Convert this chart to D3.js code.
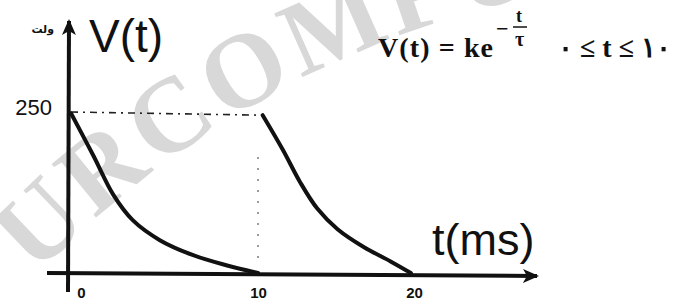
<!DOCTYPE html>
<html>
<head>
<meta charset="utf-8">
<script src="https://cdn.jsdelivr.net/npm/d3@7"></script>
<style>
body { margin: 0; background: #fff; }
svg { display: block; }
</style>
</head>
<body>
<script>
// values
var tFirst = [0, 1.2, 2.25, 3.3, 4.75, 6.5, 8.3, 10];
var vFirst = [248, 182, 122, 82, 51, 28, 12, 0];
var tSecond = [10.3, 11.6, 12.7, 13.8, 15.1, 16.8, 18.5, 19.8];
var vSecond = [245, 191, 141, 100, 68, 40, 18, 0];
var xTicks = [0, 10, 20];
var yTicks = [250];
var peakT = [0, 10.3], peakV = [250, 245];   // dash-dot guide
var dropT = [10, 10], dropV = [180, 12];     // dotted guide

var width = 675, height = 305;

var svg = d3.select("body").append("svg")
  .attr("width", width)
  .attr("height", height);

svg.append("rect").attr("width", width).attr("height", height).attr("fill", "#fff");

// hand drawn axis is not even, so a piecewise scale
var x = d3.scaleLinear().domain([0, 10, 20]).range([71, 258, 414]);
var y = d3.scaleLinear().domain([0, 250]).range([273, 112]);

// watermark on a wide arc
var cx = 697, cy = 1010, r = 990;
var a0 = -132.2 * Math.PI / 180, a1 = -92 * Math.PI / 180;
var wpd = d3.path();
wpd.moveTo(cx + r * Math.cos(a0), cy + r * Math.sin(a0));
wpd.arc(cx, cy, r, a0, a1, false);
var wm = svg.append("g").attr("transform", "rotate(-4,28,222)");
wm.append("path").attr("id", "wm").attr("d", wpd.toString()).attr("fill", "none");
wm.append("text")
  .attr("font-family", "Liberation Serif")
  .attr("font-weight", "bold")
  .attr("font-size", 106)
  .attr("letter-spacing", 5)
  .attr("fill", "#d8d8d8")
  .append("textPath")
  .attr("href", "#wm")
  .text("URCOMPUTER");

var defs = svg.append("defs");
defs.append("marker").attr("id", "arr")
  .attr("viewBox", "0 -8 16 16")
  .attr("refX", 14).attr("refY", 0)
  .attr("markerWidth", 16).attr("markerHeight", 16)
  .attr("markerUnits", "userSpaceOnUse")
  .attr("orient", "auto")
  .append("path").attr("d", "M0,-7L16,0L0,7L4,0Z").attr("fill", "#111");

// axes lines with arrows
svg.append("line")
  .attr("x1", 47).attr("y1", y(0)).attr("x2", 537).attr("y2", y(0) + 3)
  .attr("stroke", "#111").attr("stroke-width", 4)
  .attr("marker-end", "url(#arr)");
svg.append("line")
  .attr("x1", 68).attr("y1", 292).attr("x2", 69).attr("y2", 21)
  .attr("stroke", "#111").attr("stroke-width", 4)
  .attr("marker-end", "url(#arr)");

// tick labels through d3 axes
var xAxis = svg.append("g")
  .attr("transform", "translate(0," + (y(0) + 14) + ")")
  .call(d3.axisBottom(x).tickValues(xTicks).tickSize(0).tickPadding(0).tickFormat(d3.format("d")));
xAxis.select(".domain").remove();
xAxis.selectAll("text")
  .attr("font-family", "Liberation Sans")
  .attr("font-size", 15)
  .attr("font-weight", "bold")
  .attr("fill", "#111")
  .attr("dy", "0.71em")
  .attr("dx", function(d) { return d === 0 ? 10 : 0; });

var yAxis = svg.append("g")
  .attr("transform", "translate(68,0)")
  .call(d3.axisLeft(y).tickValues(yTicks).tickSize(0).tickPadding(16));
yAxis.select(".domain").remove();
yAxis.selectAll("text")
  .attr("font-family", "Liberation Sans")
  .attr("font-size", 22)
  .attr("fill", "#111")
  .attr("dy", "0.1em");

// guides
var guide = d3.line().x(function(d) { return x(d[0]); }).y(function(d) { return y(d[1]); });
svg.append("path")
  .attr("d", guide(d3.zip(peakT, peakV)))
  .attr("fill", "none").attr("stroke", "#222").attr("stroke-width", 1.6)
  .attr("stroke-dasharray", "7,5,2,5");
svg.append("path")
  .attr("d", guide(d3.zip(dropT, dropV)))
  .attr("fill", "none").attr("stroke", "#666").attr("stroke-width", 1.3)
  .attr("stroke-dasharray", "2,9");

// decay curves
var line = d3.line()
  .x(function(d) { return x(d[0]); })
  .y(function(d) { return y(d[1]); })
  .curve(d3.curveCatmullRom.alpha(0.5));
[d3.zip(tFirst, vFirst), d3.zip(tSecond, vSecond)].forEach(function(s) {
  svg.append("path")
    .attr("d", line(s))
    .attr("fill", "none")
    .attr("stroke", "#111")
    .attr("stroke-width", 4)
    .attr("stroke-linecap", "round");
});

// axis titles
svg.append("text").attr("x", 89).attr("y", 52)
  .attr("font-family", "Liberation Sans").attr("font-size", 46).attr("fill", "#111")
  .text("V(t)");
svg.append("text").attr("x", 432).attr("y", 255)
  .attr("font-family", "Liberation Sans").attr("font-size", 45).attr("fill", "#111")
  .text("t(ms)");
svg.append("text").attr("x", 54).attr("y", 33).attr("text-anchor", "end")
  .attr("font-family", "DejaVu Sans").attr("font-size", 11).attr("font-weight", "bold").attr("fill", "#111")
  .text("ولت");

// formula
var f = svg.append("g").attr("font-family", "Liberation Serif").attr("font-weight", "bold").attr("fill", "#111");
f.append("text").attr("x", 378).attr("y", 57).attr("font-size", 28).attr("textLength", 115)
  .text("V(t) = ke");
f.append("text").attr("x", 496).attr("y", 36).attr("font-size", 22).text("\u2212");
f.append("text").attr("x", 516).attr("y", 22).attr("font-size", 18).text("t");
f.append("line").attr("x1", 513).attr("x2", 527).attr("y1", 27).attr("y2", 27).attr("stroke", "#111").attr("stroke-width", 1.5);
f.append("text").attr("x", 515).attr("y", 46).attr("font-size", 20).text("\u03c4");
f.append("text").attr("x", 558).attr("y", 57).attr("font-size", 28)
  .text("\u06f0 \u2264 t \u2264 \u06f1\u06f0");
</script>
</body>
</html>
